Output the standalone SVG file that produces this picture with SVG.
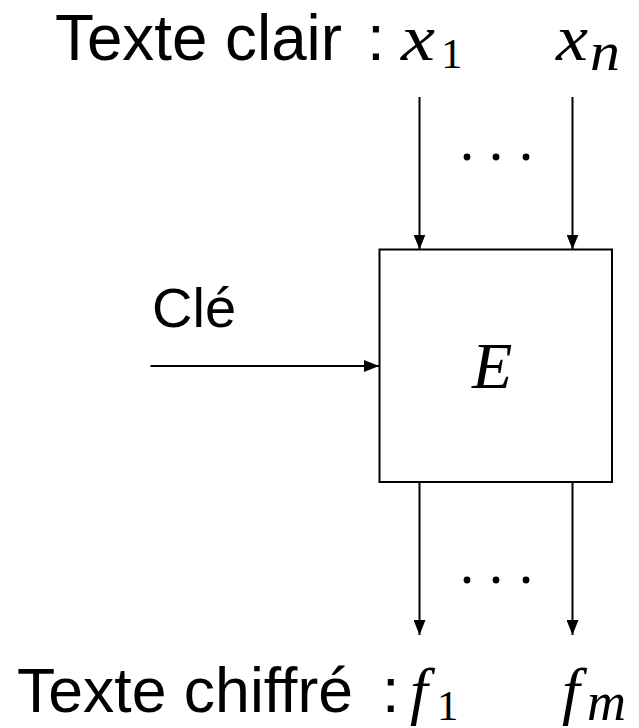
<svg xmlns="http://www.w3.org/2000/svg" width="639" height="728" viewBox="0 0 639 728">
<style>
.lbl{font-family:"Liberation Sans",Arial,sans-serif;fill:#000}
.mi{font-family:"Liberation Serif","Times New Roman",serif;font-style:italic;fill:#000}
.mr{font-family:"Liberation Serif","Times New Roman",serif;fill:#000}
.ln{stroke:#000;stroke-width:2;fill:none}
.dot{fill:#000}
</style>
<defs>
<marker id="ah" markerUnits="userSpaceOnUse" markerWidth="16" markerHeight="12" refX="15" refY="6" orient="auto">
<path d="M0,0 L15,6 L0,12 Z" fill="#000"/>
</marker>
</defs>
<rect x="0" y="0" width="639" height="728" fill="#fff"/>
<g id="plaintext">
<text class="lbl" x="55" y="59.5" font-size="64" textLength="287" lengthAdjust="spacingAndGlyphs">Texte clair</text>
<text class="lbl" x="367" y="59.5" font-size="64">:</text>
<text class="mi" x="401" y="60" font-size="66" textLength="34" lengthAdjust="spacingAndGlyphs">x</text>
<text class="mr" x="441" y="68" font-size="43">1</text>
<text class="mi" x="556" y="60" font-size="66" textLength="32" lengthAdjust="spacingAndGlyphs">x</text>
<text class="mi" x="590" y="70" font-size="54" textLength="30" lengthAdjust="spacingAndGlyphs">n</text>
</g>
<g id="key">
<text class="lbl" x="152" y="326.7" font-size="56">Clé</text>
</g>
<g id="E">
<rect class="ln" x="379.5" y="249.5" width="232.5" height="232.5" fill="#fff"/>
<text class="mi" x="472" y="388" font-size="66">E</text>
</g>
<g id="ciphertext">
<text class="lbl" x="17" y="711.7" font-size="63" textLength="336" lengthAdjust="spacingAndGlyphs">Texte chiffré</text>
<text class="lbl" x="382" y="711.7" font-size="63">:</text>
<text class="mi" x="410" y="711.7" font-size="64">f</text>
<text class="mr" x="437" y="720" font-size="43">1</text>
<text class="mi" x="562" y="711.7" font-size="64">f</text>
<text class="mi" x="587" y="720" font-size="54" textLength="39" lengthAdjust="spacingAndGlyphs">m</text>
</g>
<g id="connectors">
<line class="ln" x1="419.5" y1="97" x2="419.5" y2="249.5" marker-end="url(#ah)"/>
<line class="ln" x1="572.5" y1="97" x2="572.5" y2="249.5" marker-end="url(#ah)"/>
<line class="ln" x1="150.5" y1="366" x2="379" y2="366" marker-end="url(#ah)"/>
<line class="ln" x1="419.5" y1="482" x2="419.5" y2="635" marker-end="url(#ah)"/>
<line class="ln" x1="572.5" y1="482" x2="572.5" y2="635" marker-end="url(#ah)"/>
</g>
<g id="dots">
<circle class="dot" cx="467" cy="157" r="3.4"/>
<circle class="dot" cx="496" cy="157" r="3.4"/>
<circle class="dot" cx="526" cy="157" r="3.4"/>
<circle class="dot" cx="467" cy="580" r="3.4"/>
<circle class="dot" cx="496" cy="580" r="3.4"/>
<circle class="dot" cx="526" cy="580" r="3.4"/>
</g>
</svg>
